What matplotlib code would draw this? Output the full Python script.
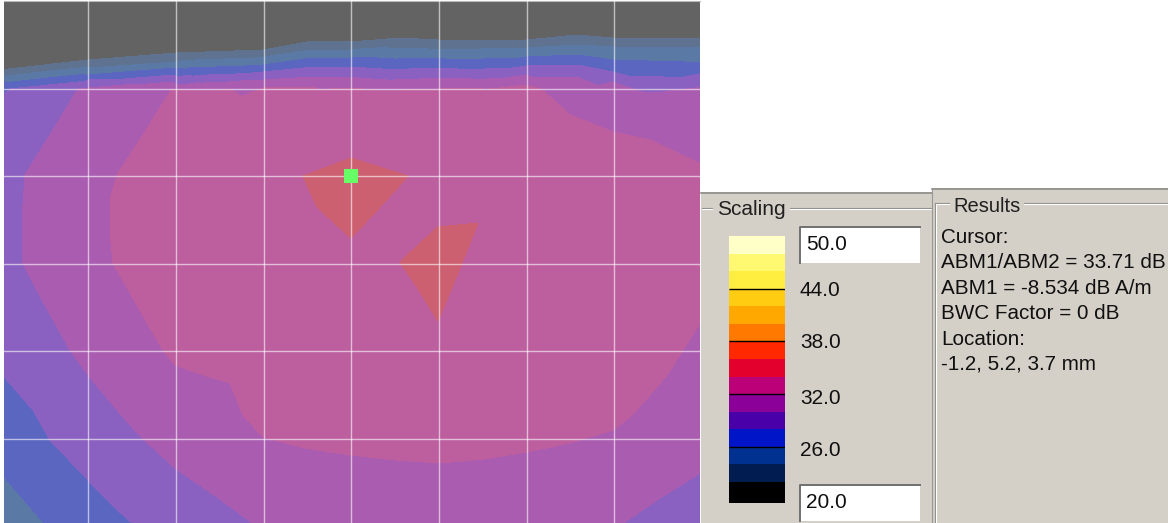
import numpy as np
import matplotlib
matplotlib.use('Agg')
import matplotlib.pyplot as plt
from matplotlib.patches import Rectangle

W, H = 1168, 523

# contour readings off the map, x/y are screen-like map units, one list per dB level
level_22_x = [0, 88, 176, 263, 313, 350, 400, 438, 526, 577, 613, 705]
level_22_y = [70, 60, 53, 50, 41, 42, 38, 40, 40, 35, 38, 38]
level_24_x = [0, 88, 176, 263, 313, 350, 438, 526, 577, 613, 705]
level_24_y = [75, 68, 62, 57, 50, 50, 50, 48, 45, 47, 47]
level_26_x = [0, 88, 176, 263, 313, 350, 438, 526, 577, 613, 705, 0, 50]
level_26_y = [80, 75, 68, 65, 58, 58, 58, 57, 55, 60, 62, 472, 530]
level_28_x = [0, 10, 88, 176, 263, 313, 350, 438, 526, 577, 613, 705, 0, 33, 50, 88, 112, 140]
level_28_y = [97, 89, 80, 77, 72, 67, 67, 68, 66, 65, 72, 73, 372, 410, 440, 480, 505, 530]
level_30_x = [705, 613, 577, 526, 438, 350, 313, 263, 176, 88, 78, 52, 25, 22, 22, 45, 70, 88, 117, 140, 175, 217, 262, 613, 660, 705]
level_30_y = [87, 82, 77, 75, 78, 77, 77, 80, 85, 88, 89, 132, 175, 220, 262, 305, 350, 375, 410, 436, 468, 497, 530, 530, 498, 470]
level_32_x = [172, 263, 313, 350, 438, 526, 541, 570, 613, 650, 705, 145, 117, 110, 110, 113, 137, 163, 175, 200, 230, 243, 263, 305, 350, 395, 440, 485, 527, 570, 613, 632, 650, 667, 683, 705]
level_32_y = [89, 88, 87, 88, 89, 85, 89, 115, 132, 140, 166, 132, 175, 200, 232, 263, 305, 350, 365, 374, 383, 415, 437, 448, 455, 460, 463, 459, 452, 443, 430, 415, 395, 375, 350, 315]
level_34_x = [303, 351, 408, 380, 351, 317, 400, 438, 478, 462, 438, 417]
level_34_y = [176, 158, 176, 207, 238, 207, 262, 227, 223, 263, 321, 287]

# points inside the zones
zone_x = [0, 705, 0, 300, 600, 0, 0, 5, 25, 50, 105, 150, 190, 705, 105, 65, 85, 110, 170, 200, 300, 440, 550, 650, 705, 440, 640, 700, 650, 590,
          200, 200, 170, 150, 140, 230, 300, 300, 450, 550, 620, 300, 450, 600, 250, 351, 705, 200, 270, 395, 370, 420, 380, 480, 520, 640, 660, 500, 260, 280, 330,
          215, 265, 320, 385, 440, 490, 530, 351, 440]
zone_y = [0, 0, 530, 0, 0, 200, 300, 130, 130, 380, 450, 490, 530, 530, 120, 220, 310, 340, 410, 440, 490, 500, 490, 450, 400, 530, 105, 120, 100, 92,
          150, 300, 130, 200, 280, 105, 130, 110, 130, 200, 250, 400, 400, 350, 260, 110, 240, 340, 400, 230, 260, 200, 300, 300, 220, 330, 290, 120, 200, 240, 280,
          94, 95, 95, 96, 96, 94, 100, 176, 262]
zone_db = [20, 20, 25, 20, 20, 29, 29, 29, 29, 29, 29, 29, 29, 29, 31, 31, 31, 31, 31, 31, 31, 31, 31, 31, 31, 31, 31, 31, 31, 31,
           33, 33, 33, 33, 33, 33, 33, 33, 33, 33, 33, 33, 33, 33, 33, 33, 33, 33, 33, 33, 33, 33, 33, 33, 33, 33, 33, 33, 33, 33, 33,
           33, 33, 33, 33, 33, 33, 33, 35, 35]

map_levels = [19, 22, 24, 26, 28, 30, 32, 34, 37]
map_colors = ['#636363', '#5f7390', '#5a7aa5', '#5a66c0', '#8a60c0', '#a95cb0', '#bd5f9f', '#cd6070']

grid_x = [88, 176, 263.5, 351, 439, 527, 613.5]
grid_y = [89, 176, 263.5, 351, 439]
cursor_x = [351]
cursor_y = [176]

# colour scale, top band first, 2 dB a band
scale_edges = [50, 48, 46, 44, 42, 40, 38, 36, 34, 32, 30, 28, 26, 24, 22, 19.6]
scale_colors = ['#ffffc8', '#fff870', '#ffee40', '#ffcc11', '#ffa800', '#ff7800', '#ff2800', '#e4002c',
                '#bc0078', '#8a0098', '#4a00a8', '#0014c8', '#003090', '#001c50', '#000000']
scale_lines = [44, 38, 32, 26]
scale_labels = ['44.0', '38.0', '32.0', '26.0']
scale_label_y = [290, 342, 399, 450]

results_lines = ['Cursor:', 'ABM1/ABM2 = 33.71 dB', 'ABM1 = -8.534 dB A/m', 'BWC Factor = 0 dB', 'Location:', '-1.2, 5.2, 3.7 mm']
results_y = [243, 268, 294, 319, 345, 370]

plt.rcParams['font.family'] = ['Liberation Sans', 'DejaVu Sans']
FACE = '#d4d0c8'


def px_axes(fig, x0, y0, x1, y1):
    return fig.add_axes([x0 / W, 1 - y1 / H, (x1 - x0) / W, (y1 - y0) / H])


def draw_map(fig):
    ax = px_axes(fig, 4, 1, 700, 523)
    xs = level_22_x + level_24_x + level_26_x + level_28_x + level_30_x + level_32_x + level_34_x + zone_x
    ys = level_22_y + level_24_y + level_26_y + level_28_y + level_30_y + level_32_y + level_34_y + zone_y
    zs = [22] * len(level_22_x) + [24] * len(level_24_x) + [26] * len(level_26_x) + [28] * len(level_28_x) \
        + [30] * len(level_30_x) + [32] * len(level_32_x) + [34] * len(level_34_x) + zone_db
    ax.tricontourf(xs, ys, np.array(zs, dtype=float), levels=map_levels, colors=map_colors)
    ax.set_xlim(4, 700)
    ax.set_ylim(523, 1)
    ax.set_xticks(grid_x)
    ax.set_yticks(grid_y)
    ax.tick_params(length=0, labelbottom=False, labelleft=False)
    ax.grid(True, color='white', alpha=0.6, lw=1.0)
    ax.set_axisbelow(False)
    for s in ['left', 'right', 'bottom']:
        ax.spines[s].set_visible(False)
    ax.spines['top'].set_color('#b8b8b8')
    ax.plot(cursor_x, cursor_y, 's', color='#66ff66', ms=9.5, mew=0, zorder=5)


def draw_panels(fig):
    ui = px_axes(fig, 0, 0, W, H)
    ui.set_xlim(0, W)
    ui.set_ylim(H, 0)
    ui.axis('off')
    ui.add_patch(Rectangle((701, 192), 231, 331, fc=FACE, ec='none'))
    ui.add_patch(Rectangle((932, 188), 236, 335, fc=FACE, ec='none'))
    ui.plot([701, 932], [192.5, 192.5], color='#8c8c88', lw=1.2)
    ui.plot([932, 1168], [188.5, 188.5], color='#8c8c88', lw=1.2)
    ui.plot([931.5, 931.5], [188, 523], color='#9a9894', lw=0.8)

    # group frames
    for x0, x1, y in [(702, 712, 208), (790, 931, 208), (935, 949, 203), (1024, 1168, 203)]:
        ui.plot([x0, x1], [y, y], color='#8c8c88', lw=0.8)
        ui.plot([x0, x1], [y + 1, y + 1], color='white', lw=0.8)
    ui.plot([935, 935], [203, 523], color='#8c8c88', lw=0.8)
    ui.plot([936, 936], [204, 523], color='white', lw=0.8)
    ui.text(717, 215, 'Scaling', fontsize=15, va='baseline', color='#202020')
    ui.text(953, 212, 'Results', fontsize=14.5, va='baseline', color='#202020')

    # entry boxes
    for y0, y1, label, ty in [(227, 263, '50.0', 245), (485, 521, '20.0', 503)]:
        ui.add_patch(Rectangle((800, y0), 120, y1 - y0, fc='white', ec='none'))
        ui.plot([800, 800, 920], [y1, y0, y0], color='#707070', lw=1.4)
        ui.text(806, ty, label, fontsize=15, va='center', color='#101010')

    for lab, y in zip(scale_labels, scale_label_y):
        ui.text(800, y, lab, fontsize=15, va='center', color='#101010')
    for line, y in zip(results_lines, results_y):
        ui.text(941, y, line, fontsize=14.9, va='baseline', color='#101010')


def draw_scale(fig):
    ax = px_axes(fig, 729, 236, 785, 503)
    heights = np.diff(scale_edges)
    ax.bar(0, heights, bottom=scale_edges[:-1], width=1, color=scale_colors, align='edge')
    ax.hlines(scale_lines, 0, 1, color='black', lw=1.0)
    ax.set_xlim(0, 1)
    ax.set_ylim(19.6, 50)
    ax.axis('off')


fig = plt.figure(figsize=(W / 100, H / 100), dpi=100, facecolor='white')
draw_panels(fig)
draw_map(fig)
draw_scale(fig)
fig.savefig('out.png', dpi=100, facecolor='white')
